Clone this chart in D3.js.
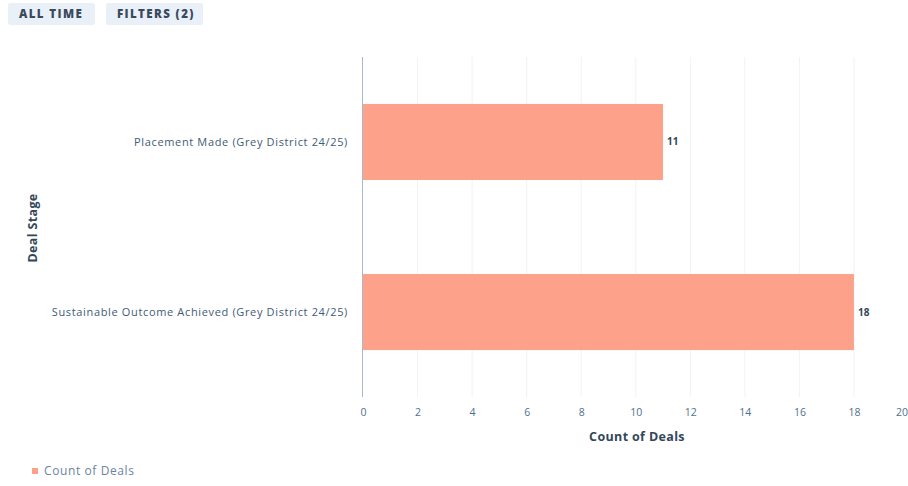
<!DOCTYPE html>
<html>
<head>
<meta charset="utf-8">
<script src="https://cdn.jsdelivr.net/npm/d3@7"></script>
<style>
  body { margin: 0; background: #fff; font-family: "Open Sans", Lato, sans-serif; }
  .btn { fill: #eaf0f7; }
  .btn-text { font-size: 11.5px; font-weight: 800; fill: #3a4a5c; letter-spacing: 1.4px; }
  .axis text { fill: #516f90; font-size: 10.5px; font-family: "Open Sans", sans-serif; }
  .cat-label { fill: #425b76; font-size: 11px; letter-spacing: 0.65px; }
  .value-label { fill: #33475b; font-size: 10px; font-weight: 700; }
  .axis-title { fill: #33475b; font-size: 12.5px; font-weight: 700; letter-spacing: 0.35px; }
</style>
</head>
<body>
<div id="chart"></div>
<script>
// Data
var stages = ["Placement Made (Grey District 24/25)", "Sustainable Outcome Achieved (Grey District 24/25)"];
var dealCounts = [11, 18];
var xTicks = [0, 2, 4, 6, 8, 10, 12, 14, 16, 18, 20];
var buttons = ["ALL TIME", "FILTERS (2)"];

var width = 908, height = 486;
var margin = {top: 57, right: 0, bottom: 89, left: 363};
var barColor = "#fda18a";

var svg = d3.select("#chart").append("svg")
    .attr("width", width)
    .attr("height", height);

// Top buttons
var btnX = [8, 106], btnW = [87, 97];
var btns = svg.selectAll(".btn-g")
    .data(buttons)
    .enter().append("g")
    .attr("transform", (d, i) => "translate(" + btnX[i] + ",3)");
btns.append("rect")
    .attr("class", "btn")
    .attr("width", (d, i) => btnW[i])
    .attr("height", 22)
    .attr("rx", 2);
btns.append("text")
    .attr("class", "btn-text")
    .attr("x", 11)
    .attr("y", 15)
    .text(d => d);

// Scales
var x = d3.scaleLinear()
    .domain([0, 20])
    .range([margin.left, 908.5]);
var y = d3.scaleBand()
    .domain(stages)
    .range([margin.top, height - margin.bottom])
    .paddingInner(0.553)
    .paddingOuter(0.276);

// Gridlines
svg.append("g")
    .selectAll("line")
    .data(xTicks.slice(1))
    .enter().append("line")
    .attr("x1", d => x(d))
    .attr("x2", d => x(d))
    .attr("y1", margin.top)
    .attr("y2", height - margin.bottom)
    .attr("stroke", "#f0f2f5")
    .attr("stroke-width", 1);

// Bars
svg.selectAll(".bar")
    .data(dealCounts)
    .enter().append("rect")
    .attr("class", "bar")
    .attr("x", x(0))
    .attr("y", (d, i) => y(stages[i]))
    .attr("width", d => x(d) - x(0))
    .attr("height", y.bandwidth())
    .attr("fill", barColor);

// Value labels
svg.selectAll(".value-label")
    .data(dealCounts)
    .enter().append("text")
    .attr("class", "value-label")
    .attr("x", d => x(d) + 4)
    .attr("y", (d, i) => y(stages[i]) + y.bandwidth() / 2)
    .attr("dy", "0.35em")
    .text(d => d);

// Category axis line
svg.append("line")
    .attr("x1", x(0) - 0.5)
    .attr("x2", x(0) - 0.5)
    .attr("y1", margin.top)
    .attr("y2", height - margin.bottom)
    .attr("stroke", "#a9b9c9")
    .attr("stroke-width", 1);

// Category labels
svg.selectAll(".cat-label")
    .data(stages)
    .enter().append("text")
    .attr("class", "cat-label")
    .attr("x", 348)
    .attr("y", d => y(d) + y.bandwidth() / 2)
    .attr("dy", "0.35em")
    .attr("text-anchor", "end")
    .text(d => d);

// X axis
var xAxis = d3.axisBottom(x)
    .tickValues(xTicks)
    .tickSize(0)
    .tickPadding(0);
var gx = svg.append("g")
    .attr("class", "axis")
    .attr("transform", "translate(0," + 409 + ")")
    .call(xAxis);
gx.select(".domain").remove();
// last label sits at the right edge, pull it inside
gx.selectAll(".tick text")
    .filter(d => d === xTicks[xTicks.length - 1])
    .attr("text-anchor", "end")
    .attr("x", -1);

// Axis titles
svg.append("text")
    .attr("class", "axis-title")
    .attr("x", 637)
    .attr("y", 441)
    .attr("text-anchor", "middle")
    .text("Count of Deals");

svg.append("text")
    .attr("class", "axis-title")
    .attr("transform", "translate(37,228) rotate(-90)")
    .attr("text-anchor", "middle")
    .text("Deal Stage");

// Legend
svg.append("rect")
    .attr("x", 32)
    .attr("y", 468)
    .attr("width", 6)
    .attr("height", 6)
    .attr("fill", barColor);
svg.append("text")
    .attr("x", 44)
    .attr("y", 475)
    .attr("fill", "#6b84a0")
    .attr("font-size", "12px")
    .attr("letter-spacing", "0.6px")
    .text("Count of Deals");
</script>
</body>
</html>
